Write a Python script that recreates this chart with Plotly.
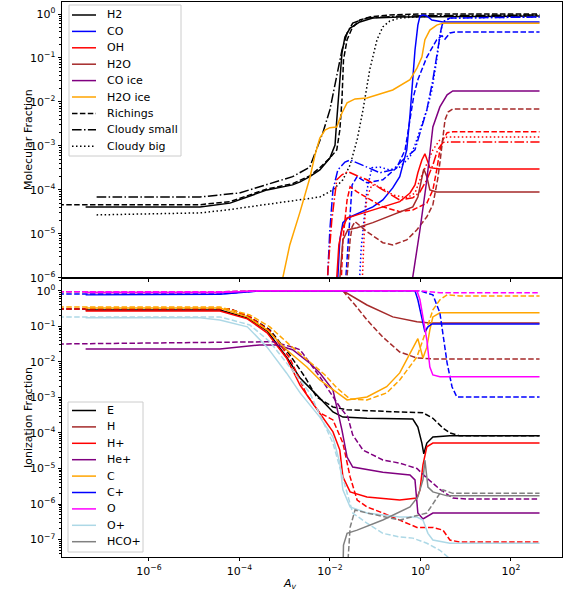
import plotly.graph_objects as go
from plotly.subplots import make_subplots

# ================= TOP PANEL: molecular fractions =================
# H2 (solid = this model, dashed = Richings, dashdot = Cloudy small, dotted = Cloudy big)
h2_av = [4e-8, 1.35e-5, 6.2e-5, 1.5e-4, 4.1e-4, 1.5e-3, 2.2e-3, 3.6e-3, 6.0e-3, 1.0e-2, 1.17e-2, 1.3e-2,
         1.42e-2, 1.58e-2, 1.77e-2, 1.85e-2, 2.15e-2, 2.8e-2, 4.6e-2, 8.9e-2, 0.35, 430]
h2_frac = [4.1e-5, 4.1e-5, 5.0e-5, 6.9e-5, 1.0e-4, 1.3e-4, 1.52e-4, 2.0e-4, 2.85e-4, 5.3e-4, 8.1e-4, 1.05e-3,
           3.9e-3, 1.87e-2, 0.069, 0.13, 0.30, 0.48, 0.66, 0.81, 0.855, 0.90]
h2_rich_av = [1e-8, 1.35e-5, 6.2e-5, 1.5e-4, 4.1e-4, 1.5e-3, 3.6e-3, 6.0e-3, 1.0e-2, 1.42e-2, 1.66e-2, 1.85e-2,
              2.0e-2, 2.4e-2, 3.1e-2, 4.6e-2, 7.6e-2, 0.21, 0.98, 430]
h2_rich_frac = [4.6e-5, 4.6e-5, 5.4e-5, 7.3e-5, 1.05e-4, 1.38e-4, 2.09e-4, 3.2e-4, 5.3e-4, 8.1e-4, 2.3e-3, 1.11e-2,
                0.09, 0.26, 0.48, 0.73, 0.855, 0.95, 1.0, 1.0]
h2_small_av = [7e-8, 1.35e-5, 1e-4, 2.8e-4, 1.5e-3, 3.6e-3, 5.1e-3, 7.0e-3, 1.0e-2, 1.42e-2, 1.85e-2, 2.4e-2,
               3.2e-2, 6.6e-2, 0.35, 430]
h2_small_frac = [6.9e-5, 6.9e-5, 8.5e-5, 1.18e-4, 2.0e-4, 3.3e-4, 8.1e-4, 2.0e-3, 6.6e-3, 0.037, 0.15, 0.37,
                 0.62, 0.81, 0.90, 0.95]
h2_big_av = [7e-8, 1.35e-5, 5.3e-5, 6.8e-4, 6.0e-3, 1.17e-2, 1.94e-2, 2.8e-2, 4.0e-2, 5.4e-2, 7.6e-2, 0.11,
             0.148, 0.21, 0.35, 1.62, 430]
h2_big_frac = [2.7e-5, 3.0e-5, 3.5e-5, 5.0e-5, 6.9e-5, 1.0e-4, 1.7e-4, 3.7e-4, 1.38e-3, 6.6e-3, 0.054, 0.26,
               0.51, 0.69, 0.81, 0.90, 0.95]

# CO
co_av = [1.42e-2, 1.5e-2, 1.66e-2, 1.94e-2, 2.5e-2, 4.6e-2, 8.9e-2, 0.148, 0.245, 0.35, 0.41, 0.50, 0.59, 0.68,
         0.76, 0.88, 0.98, 1.14, 1.39, 1.8, 2.3, 3.15, 430]
co_frac = [5e-7, 1.05e-6, 7.3e-6, 1.8e-5, 2.3e-5, 3.0e-5, 4.1e-5, 5.9e-5, 1.11e-4, 1.99e-4, 3.7e-4, 8.1e-4,
           5.0e-3, 0.032, 0.15, 0.56, 0.90, 0.95, 0.90, 0.73, 0.69, 0.66, 0.66]
co_rich_av = [2.15e-2, 2.5e-2, 3.1e-2, 4.0e-2, 6.6e-2, 0.148, 0.30, 0.46, 0.59, 0.72, 0.88, 1.39, 2.3, 3.0, 3.5,
              4.5, 5.8, 430]
co_rich_frac = [5e-7, 4.3e-6, 1.3e-4, 2.0e-4, 1.45e-4, 1.7e-4, 3.2e-4, 8.1e-4, 3.9e-3, 0.0145, 0.032, 0.105,
                0.26, 0.32, 0.27, 0.37, 0.39, 0.39]
co_small_av = [8.6e-3, 9.1e-3, 1.0e-2, 1.17e-2, 1.5e-2, 2.15e-2, 2.8e-2, 6.6e-2, 0.127, 0.245, 0.41, 0.76,
               0.98, 1.39, 1.89, 2.4, 2.85, 3.15, 4.5, 430]
co_small_frac = [5e-7, 1.5e-6, 1.24e-5, 1.0e-4, 2.85e-4, 4.3e-4, 4.8e-4, 3.3e-4, 2.45e-4, 2.85e-4, 4.8e-4,
                 8.1e-4, 2.0e-3, 6.6e-3, 0.032, 0.15, 0.43, 0.66, 0.81, 0.855]
co_big_av = [0.044, 0.049, 5.4e-2, 6.6e-2, 8.5e-2, 0.127, 0.21, 0.35, 0.59, 0.76, 0.98, 1.39, 1.8, 2.3, 2.7,
             3.15, 4.5, 430]
co_big_frac = [5e-7, 4.3e-6, 1.24e-5, 1.0e-4, 3.2e-4, 3.3e-4, 2.85e-4, 3.3e-4, 5.6e-4, 1.05e-3, 2.3e-3,
               6.6e-3, 0.0187, 0.09, 0.33, 0.66, 0.81, 0.855]

# OH
oh_av = [1.36e-2, 1.42e-2, 1.58e-2, 1.85e-2, 2.4e-2, 4.0e-2, 8.9e-2, 0.21, 0.35, 0.59, 0.76, 0.88, 1.08, 1.26,
         1.39, 1.62, 2.7, 430]
oh_frac = [5e-7, 1.05e-6, 5.6e-6, 1.24e-5, 2.3e-5, 2.7e-5, 3.5e-5, 4.6e-5, 5.4e-5, 8.5e-5, 1.3e-4, 2.45e-4,
           4.8e-4, 6.6e-4, 4.8e-4, 3.2e-4, 3.0e-4, 3.0e-4]
oh_rich_av = [1.75e-2, 1.94e-2, 2.4e-2, 2.8e-2, 4.0e-2, 6.6e-2, 0.148, 0.35, 0.68, 1.39, 1.89, 2.3, 2.7, 3.15,
              3.9, 5.2, 430]
oh_rich_frac = [5e-7, 7.3e-6, 5.9e-5, 1.18e-4, 9.0e-5, 6.6e-5, 4.1e-5, 3.2e-5, 3.5e-5, 5.0e-5, 1.0e-4,
                2.85e-4, 8.1e-4, 1.38e-3, 2.0e-3, 2.1e-3, 2.1e-3]
oh_small_av = [8.6e-3, 9.1e-3, 1.1e-2, 1.42e-2, 1.85e-2, 2.5e-2, 4.0e-2, 6.6e-2, 0.148, 0.35, 0.68, 0.98, 1.39,
               1.89, 2.4, 3.15, 4.5, 430]
oh_small_frac = [5e-7, 1.5e-6, 2.0e-5, 1.7e-4, 2.2e-4, 2.6e-4, 2.1e-4, 1.7e-4, 1.0e-4, 5.9e-5, 6.6e-5, 9.0e-5,
                 1.7e-4, 3.7e-4, 8.1e-4, 1.2e-3, 1.23e-3, 1.23e-3]
oh_big_av = [5.1e-2, 5.4e-2, 5.9e-2, 6.6e-2, 8.5e-2, 0.127, 0.245, 0.50, 0.76, 0.98, 1.39, 1.89, 2.7, 3.9, 430]
oh_big_frac = [5e-7, 1.8e-6, 2.1e-5, 6.9e-5, 1.3e-4, 1.18e-4, 7.7e-5, 6.6e-5, 8.5e-5, 1.7e-4, 4.1e-4, 8.1e-4,
               1.38e-3, 1.6e-3, 1.6e-3]

# H2O
h2o_av = [1.58e-2, 1.66e-2, 1.94e-2, 2.5e-2, 4.0e-2, 8.9e-2, 0.245, 0.35, 0.68, 0.88, 1.08, 1.19, 1.39, 1.62,
          2.3, 430]
h2o_frac = [5e-7, 1.05e-6, 7.3e-6, 1.24e-5, 1.38e-5, 1.8e-5, 2.7e-5, 3.2e-5, 4.1e-5, 6.9e-5, 1.7e-4, 3.0e-4,
            2.0e-4, 1.0e-4, 9.0e-5, 9.0e-5]
h2o_rich_av = [2.25e-2, 2.4e-2, 2.8e-2, 3.1e-2, 3.6e-2, 6.6e-2, 0.148, 0.245, 0.50, 0.84, 1.39, 1.89, 2.4, 2.7,
               3.0, 3.15, 3.5, 4.1, 5.2, 430]
h2o_rich_frac = [5e-7, 1.05e-6, 7.3e-6, 1.45e-5, 1.9e-5, 1.12e-5, 6.3e-6, 5.6e-6, 7.3e-6, 1.24e-5, 2.45e-5,
                 4.6e-5, 1.7e-4, 4.1e-4, 9.5e-4, 1.38e-3, 3.9e-3, 5.9e-3, 6.9e-3, 6.9e-3]

# CO ice
coice_av = [0.65, 0.68, 0.98, 1.39, 1.89, 2.7, 3.9, 5.2, 430]
coice_frac = [5e-7, 1.05e-6, 1.24e-5, 1.7e-4, 2.7e-3, 7.7e-3, 0.0145, 0.0178, 0.0178]

# H2O ice
h2oice_av = [8.7e-4, 9.1e-4, 1.3e-3, 2.2e-3, 3.6e-3, 4.7e-3, 6.0e-3, 7.8e-3, 1.0e-2, 1.42e-2, 1.85e-2, 2.4e-2,
             3.6e-2, 6.6e-2, 0.245, 0.59, 0.84, 1.08, 1.26, 1.62, 2.3, 3.15, 430]
h2oice_frac = [5e-7, 1.0e-6, 5.6e-6, 3.2e-5, 1.87e-4, 6.3e-4, 1.5e-3, 2.3e-3, 2.6e-3, 2.7e-3, 5.6e-3, 9.5e-3,
               0.0117, 0.0123, 0.0187, 0.032, 0.059, 0.105, 0.26, 0.43, 0.56, 0.62, 0.62]

# ================= BOTTOM PANEL: ionization fractions =================
e_av = [4e-8, 3.7e-5, 1.5e-4, 4.1e-4, 1.1e-3, 2.2e-3, 5.1e-3, 1.17e-2, 1.94e-2, 6.6e-2, 0.68, 0.88, 1.08, 1.19,
        1.39, 1.89, 4.5, 430]
e_frac = [0.29, 0.29, 0.174, 0.075, 0.0138, 0.0035, 1.18e-3, 3.9e-4, 2.8e-4, 2.6e-4, 2.47e-4, 1.47e-4, 5.2e-5,
          2.6e-5, 5.2e-5, 7.7e-5, 8.3e-5, 8.3e-5]
e_rich_av = [1e-8, 6.2e-5, 1.7e-4, 4.7e-4, 1.3e-3, 2.8e-3, 5.1e-3, 1.17e-2, 2.4e-2, 6.6e-2, 0.35, 1.14, 1.89,
             3.15, 4.5, 7.5, 430]
e_rich_frac = [0.31, 0.31, 0.185, 0.080, 0.0158, 0.0038, 1.03e-3, 5.4e-4, 4.5e-4, 4.2e-4, 3.9e-4, 3.7e-4,
               2.6e-4, 1.38e-4, 1.0e-4, 8.3e-5, 8.3e-5]

h_av = [4e-8, 3.7e-5, 2.8e-4, 1.94e-2, 6.6e-2, 0.245, 0.84, 1.62, 430]
h_frac = [0.9, 0.9, 1.0, 1.0, 0.40, 0.185, 0.134, 0.125, 0.125]
h_rich_av = [1e-8, 3.7e-5, 2.8e-4, 1.94e-2, 3.6e-2, 6.6e-2, 0.148, 0.35, 0.84, 1.89, 430]
h_rich_frac = [0.94, 0.94, 1.0, 1.0, 0.40, 0.152, 0.050, 0.019, 0.0129, 0.0121, 0.0121]

hp_av = [4e-8, 3.7e-5, 1.5e-4, 4.1e-4, 1.1e-3, 2.2e-3, 5.1e-3, 1.17e-2, 1.66e-2, 1.94e-2, 2.8e-2, 6.6e-2, 0.35,
         0.84, 0.98, 1.14, 1.39, 1.89, 430]
hp_frac = [0.27, 0.27, 0.163, 0.066, 0.0129, 2.2e-3, 4.8e-4, 1.07e-4, 3.3e-5, 5.8e-6, 2.2e-6, 1.58e-6, 1.3e-6,
           1.48e-6, 2.5e-6, 1.26e-5, 4.1e-5, 5.2e-5, 5.2e-5]
hp_rich_av = [1e-8, 6.2e-5, 1.7e-4, 4.7e-4, 1.3e-3, 3.1e-3, 6.0e-3, 1.17e-2, 1.94e-2, 2.8e-2, 4.0e-2, 6.6e-2,
              0.148, 0.35, 0.84, 1.89, 3.15, 4.5, 7.5, 430]
hp_rich_frac = [0.31, 0.31, 0.185, 0.075, 0.0129, 1.18e-3, 3.7e-4, 2.33e-4, 5.2e-5, 5.8e-6, 1.3e-6, 8.3e-7,
                5.6e-7, 3.55e-7, 2.2e-7, 2.2e-7, 1.85e-7, 9.7e-8, 8.5e-8, 8.5e-8]

hep_av = [4e-8, 3.7e-5, 2.8e-4, 6.8e-4, 1.5e-3, 3.6e-3, 6.0e-3, 1.17e-2, 1.42e-2, 1.85e-2, 2.4e-2, 3.2e-2, 0.148,
          0.59, 0.76, 0.88, 1.14, 1.89, 430]
hep_frac = [0.023, 0.023, 0.030, 0.030, 0.022, 9.3e-3, 4.9e-3, 1.62e-3, 5.4e-4, 1.2e-4, 2.1e-5, 1.1e-5, 7.9e-6,
            6.6e-6, 4.8e-6, 5.6e-7, 3.8e-7, 5.6e-7, 5.6e-7]
hep_rich_av = [1e-8, 1e-4, 5.5e-4, 1.5e-3, 2.2e-3, 6.0e-3, 1.66e-2, 2.5e-2, 3.2e-2, 5.4e-2, 0.148, 0.35, 0.84,
               1.39, 2.7, 5.2, 10.7, 430]
hep_rich_frac = [0.032, 0.037, 0.037, 0.026, 0.022, 3.8e-3, 5.4e-4, 2.8e-4, 8.8e-5, 3.3e-5, 1.74e-5, 1.42e-5,
                 1.0e-5, 5.4e-6, 2.6e-6, 1.48e-6, 1.38e-6, 1.38e-6]

c_av = [4e-8, 3.7e-5, 1.5e-4, 4.1e-4, 1.1e-3, 3.1e-3, 6.0e-3, 1.17e-2, 2.4e-2, 6.6e-2, 0.18, 0.35, 0.59, 0.84,
        0.88, 1.14, 1.39, 1.62, 1.89, 2.7, 430]
c_frac = [0.33, 0.33, 0.185, 0.080, 0.022, 7.2e-3, 3.1e-3, 1.62e-3, 8.5e-4, 1.03e-3, 2.0e-3, 4.9e-3, 0.018,
          0.042, 0.045, 0.0129, 0.026, 0.080, 0.185, 0.24, 0.24]
c_rich_av = [1e-8, 3.7e-5, 1.7e-4, 4.7e-4, 1.3e-3, 3.6e-3, 7.8e-3, 1.42e-2, 2.8e-2, 6.6e-2, 0.18, 0.35, 0.84,
             1.14, 1.89, 2.7, 3.9, 7.5, 430]
c_rich_frac = [0.35, 0.35, 0.21, 0.097, 0.030, 0.010, 4.3e-3, 1.86e-3, 9.0e-4, 8.5e-4, 1.34e-3, 3.1e-3, 0.0138,
               0.042, 0.29, 0.56, 0.77, 0.72, 0.72]

cp_av = [4e-8, 1.35e-5, 3.7e-5, 2.8e-4, 0.76, 0.88, 1.08, 1.26, 1.47, 1.8, 2.7, 430]
cp_frac = [0.77, 0.77, 0.8, 1.0, 1.0, 0.56, 0.152, 0.070, 0.097, 0.117, 0.117, 0.117]
cp_rich_av = [1e-8, 3.7e-5, 2.8e-4, 0.98, 1.89, 2.7, 3.9, 5.0, 6.4, 430]
cp_rich_frac = [0.82, 0.82, 1.0, 1.0, 0.77, 0.24, 9.3e-3, 2.0e-3, 1.03e-3, 1.03e-3]

o_av = [4e-8, 3.7e-5, 2.8e-4, 0.84, 0.98, 1.14, 1.39, 1.62, 1.89, 2.7, 430]
o_frac = [0.9, 0.9, 1.0, 1.0, 0.56, 0.185, 0.042, 7.2e-3, 4.3e-3, 3.8e-3, 3.8e-3]
o_rich_av = [1e-8, 3.7e-5, 2.8e-4, 0.98, 2.7, 430]
o_rich_frac = [0.94, 0.94, 1.0, 1.0, 0.88, 0.88]

op_av = [4e-8, 1.35e-5, 3.7e-5, 1.5e-4, 4.1e-4, 1.1e-3, 2.2e-3, 6.0e-3, 1.17e-2, 1.66e-2, 1.94e-2, 2.8e-2,
         6.6e-2, 0.35, 0.84, 1.14, 1.47, 1.89, 4.5, 430]
op_frac = [0.174, 0.174, 0.152, 0.097, 0.026, 4.9e-3, 1.34e-3, 2.8e-4, 7.7e-5, 1.42e-5, 2.5e-6, 8.3e-7, 5.6e-7,
           4.3e-7, 4.3e-7, 3.55e-7, 1.5e-7, 9.7e-8, 7.9e-8, 7.9e-8]
op_rich_av = [1e-8, 3.7e-5, 1.7e-4, 4.7e-4, 1.3e-3, 3.6e-3, 1.17e-2, 1.94e-2, 3.2e-2, 6.6e-2, 0.148, 0.35, 0.68,
              1.39, 2.7, 4.1, 5.8]
op_rich_frac = [0.185, 0.185, 0.11, 0.037, 7.2e-3, 1.34e-3, 5.2e-5, 5.8e-6, 5.6e-7, 2.9e-7, 1.5e-7, 1.18e-7,
                1.1e-7, 7.9e-8, 5.0e-8, 3.2e-8, 1.6e-8]

hcop_av = [1.94e-2, 2.0e-2, 2.4e-2, 4.0e-2, 0.148, 0.59, 0.88, 1.14, 1.26, 1.47, 1.89, 3.9, 430]
hcop_frac = [1e-8, 7e-8, 1.5e-7, 1.85e-7, 3.55e-7, 8.3e-7, 1.58e-6, 4.8e-6, 1.74e-5, 3.0e-6, 2.2e-6, 1.7e-6,
             1.7e-6]
hcop_rich_av = [2.4e-2, 2.8e-2, 3.6e-2, 6.6e-2, 0.35, 1.39, 2.7, 3.15, 5.2, 430]
hcop_rich_frac = [1e-8, 2.2e-7, 6.8e-7, 5.6e-7, 3.55e-7, 5.6e-7, 2.0e-6, 2.5e-6, 2.0e-6, 2.0e-6]

# tick labels
x_tickvals = [1e-6, 1e-4, 1e-2, 1, 1e2]
x_ticktext = ["10<sup>\u22126</sup>", "10<sup>\u22124</sup>", "10<sup>\u22122</sup>", "10<sup>0</sup>",
              "10<sup>2</sup>"]
ytop_exponents = [-6, -5, -4, -3, -2, -1, 0]
ybot_exponents = [-7, -6, -5, -4, -3, -2, -1, 0]

# ---------------------------------------------------------------
FONT = "DejaVu Sans"
FS = 11
DASH = {"solid": "solid", "rich": "5.5px,2.4px", "small": "9.6px,2.4px,1.5px,2.4px", "big": "1.5px,2.5px"}
W, H = 568, 599
L, R, T, B = 62, 562, 2, 557  # plot-area edges in pixels

fig = make_subplots(rows=2, cols=1, shared_xaxes=True, vertical_spacing=0)


def add(row, av, frac, color, style):
    fig.add_trace(go.Scatter(x=av, y=frac, mode="lines",
                             line=dict(color=color, width=1.5, dash=DASH[style]),
                             showlegend=False, hoverinfo="skip"), row=row, col=1)


top = [
    ("H2", "black", [("solid", h2_av, h2_frac), ("rich", h2_rich_av, h2_rich_frac),
                     ("small", h2_small_av, h2_small_frac), ("big", h2_big_av, h2_big_frac)]),
    ("CO", "blue", [("solid", co_av, co_frac), ("rich", co_rich_av, co_rich_frac),
                    ("small", co_small_av, co_small_frac), ("big", co_big_av, co_big_frac)]),
    ("OH", "red", [("solid", oh_av, oh_frac), ("rich", oh_rich_av, oh_rich_frac),
                   ("small", oh_small_av, oh_small_frac), ("big", oh_big_av, oh_big_frac)]),
    ("H2O", "brown", [("solid", h2o_av, h2o_frac), ("rich", h2o_rich_av, h2o_rich_frac)]),
    ("CO ice", "purple", [("solid", coice_av, coice_frac)]),
    ("H2O ice", "orange", [("solid", h2oice_av, h2oice_frac)]),
]
bottom = [
    ("E", "black", [("solid", e_av, e_frac), ("rich", e_rich_av, e_rich_frac)]),
    ("H", "brown", [("solid", h_av, h_frac), ("rich", h_rich_av, h_rich_frac)]),
    ("H+", "red", [("solid", hp_av, hp_frac), ("rich", hp_rich_av, hp_rich_frac)]),
    ("He+", "purple", [("solid", hep_av, hep_frac), ("rich", hep_rich_av, hep_rich_frac)]),
    ("C", "orange", [("solid", c_av, c_frac), ("rich", c_rich_av, c_rich_frac)]),
    ("C+", "blue", [("solid", cp_av, cp_frac), ("rich", cp_rich_av, cp_rich_frac)]),
    ("O", "magenta", [("solid", o_av, o_frac), ("rich", o_rich_av, o_rich_frac)]),
    ("O+", "lightblue", [("solid", op_av, op_frac), ("rich", op_rich_av, op_rich_frac)]),
    ("HCO+", "gray", [("solid", hcop_av, hcop_frac), ("rich", hcop_rich_av, hcop_rich_frac)]),
]
for row, group in ((1, top), (2, bottom)):
    for name, color, lines in group:
        for style, av, fr in lines:
            add(row, av, fr, color, style)


# ---------- legends drawn as shapes + text (matplotlib-like compact rows) ----------
def px(x):
    return (x - L) / (R - L)


def py(y):
    return (B - y) / (B - T)


shapes, annotations = [], []


def legend_box(x0, y0, x1, y1, items, row0, step):
    shapes.append(dict(type="rect", xref="paper", yref="paper", x0=px(x0), x1=px(x1), y0=py(y1), y1=py(y0),
                       fillcolor="rgba(255,255,255,0.8)", line=dict(color="#cccccc", width=1), layer="above"))
    for i, (label, color, style) in enumerate(items):
        yc = row0 + i * step
        shapes.append(dict(type="line", xref="paper", yref="paper", x0=px(72), x1=px(96), y0=py(yc), y1=py(yc),
                           line=dict(color=color, width=1.5, dash=DASH[style]), layer="above"))
        annotations.append(dict(text=label, xref="paper", yref="paper", x=px(105), y=py(yc), xanchor="left",
                                yanchor="middle", showarrow=False,
                                font=dict(family=FONT, size=FS, color="black")))


top_items = [(n, c, "solid") for n, c, _ in top] + [("Richings", "black", "rich"),
                                                     ("Cloudy small", "black", "small"),
                                                     ("Cloudy big", "black", "big")]
bot_items = [(n, c, "solid") for n, c, _ in bottom]
legend_box(69, 5, 181, 156, top_items, 15, 16.4)
legend_box(68, 402, 143, 552, bot_items, 410.5, 16.4)

# axis titles
title_font = dict(family=FONT, size=FS, color="black")
annotations.append(dict(text="Molecular Fraction", xref="paper", yref="paper", x=px(28), y=py(140),
                        xanchor="center", yanchor="middle", textangle=-90, showarrow=False, font=title_font))
annotations.append(dict(text="Ionization Fraction", xref="paper", yref="paper", x=px(28), y=py(418),
                        xanchor="center", yanchor="middle", textangle=-90, showarrow=False, font=title_font))
annotations.append(dict(text="<i>A</i><sub><i>v</i></sub>", xref="paper", yref="paper", x=px(290), y=py(584),
                        xanchor="center", yanchor="middle", showarrow=False, font=title_font))

axis_common = dict(showline=True, linecolor="black", linewidth=0.8, mirror=True, ticks="outside",
                   ticklen=3.5, tickwidth=0.8, tickcolor="black", showgrid=False, zeroline=False,
                   tickfont=dict(family=FONT, size=FS, color="black"))

fig.update_xaxes(type="log", range=[-7.92, 3.13], tickmode="array", tickvals=x_tickvals, ticktext=x_ticktext,
                 **axis_common)
fig.update_xaxes(showticklabels=False, row=1, col=1)


def log_ticks(exps):
    vals = [10.0 ** e for e in exps]
    text = ["10<sup>" + str(e).replace("-", "\u2212") + "</sup>" for e in exps]
    minor_vals = [m * 10.0 ** e for e in range(exps[0] - 1, exps[-1] + 1) for m in range(2, 10)]
    return vals, text, minor_vals


tv, tt, mv = log_ticks(ytop_exponents)
fig.update_yaxes(type="log", range=[-6, 0.273], domain=[0.503, 1.0], tickmode="array", tickvals=tv, ticktext=tt,
                 minor=dict(ticks="outside", ticklen=2, tickwidth=0.6, tickcolor="black", tickmode="array",
                            tickvals=mv, showgrid=False), row=1, col=1, **axis_common)
tv, tt, mv = log_ticks(ybot_exponents)
fig.update_yaxes(type="log", range=[-7.49, 0.366], domain=[0.0, 0.503], tickmode="array", tickvals=tv, ticktext=tt,
                 minor=dict(ticks="outside", ticklen=2, tickwidth=0.6, tickcolor="black", tickmode="array",
                            tickvals=mv, showgrid=False), row=2, col=1, **axis_common)

fig.update_layout(
    width=W, height=H,
    margin=dict(l=L, r=W - R, t=T, b=H - B),
    paper_bgcolor="white", plot_bgcolor="white",
    font=dict(family=FONT, size=FS, color="black"),
    showlegend=False,
    shapes=shapes, annotations=annotations,
)

fig.write_html("out.html")
